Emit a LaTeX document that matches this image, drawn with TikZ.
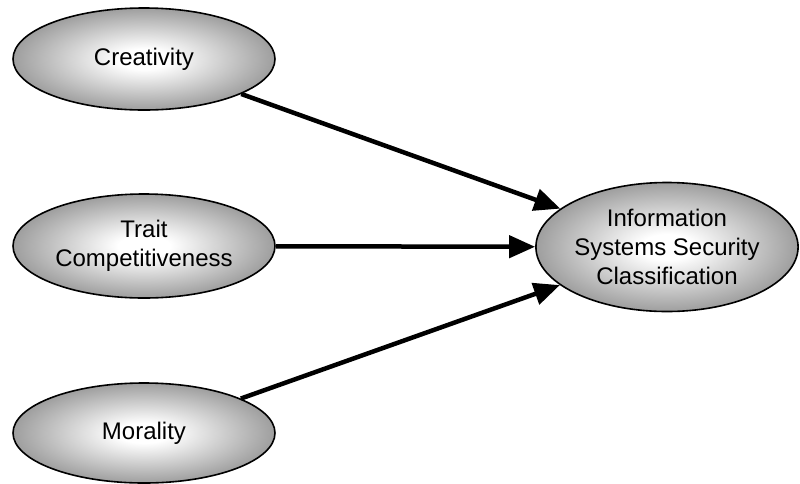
\documentclass[tikz,border=0pt]{standalone}
\usepackage{fontspec}
\setmainfont{Liberation Sans}
\usetikzlibrary{shapes.geometric,arrows.meta}
% white core that fades to grey at the rim
\pgfdeclareradialshading{softglow}{\pgfpointorigin}{color(0bp)=(white); color(5bp)=(white); color(25bp)=(black!38); color(50bp)=(black!38)}
\begin{document}
\begin{tikzpicture}[x=1pt,y=-1pt,
  factor/.style={ellipse,draw=black,line width=1.6pt,inner sep=0pt,
    shading=softglow,
    align=center,font=\fontsize{24}{29}\selectfont},
  link/.style={line width=4.5pt,-{Triangle[length=26pt,width=22pt]}}]
  \useasboundingbox (0,0) rectangle (800,483);
  \node[factor,minimum width=262pt,minimum height=102pt] (cre) at (144,59) {Creativity};
  \node[factor,minimum width=262pt,minimum height=104pt] (tra) at (144,246) {Trait\\Competitiveness};
  \node[factor,minimum width=262pt,minimum height=100pt] (mor) at (144,433) {Morality};
  \node[factor,minimum width=259pt,minimum height=129pt] (iss) at (667,247) {Information\\Systems Security\\Classification};
  \draw[link] (cre) -- (iss);
  \draw[link] (tra) -- (iss);
  \draw[link] (mor) -- (iss);
\end{tikzpicture}
\end{document}
